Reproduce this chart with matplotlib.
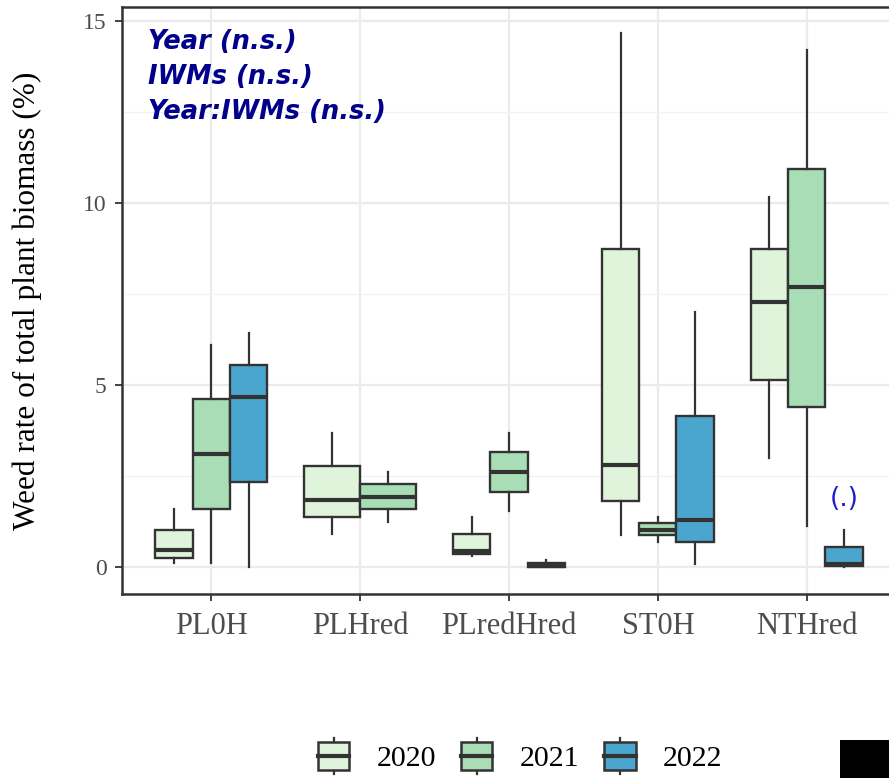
import matplotlib
matplotlib.use("Agg")
import matplotlib.pyplot as plt
from matplotlib.patches import Rectangle
from matplotlib.lines import Line2D
from matplotlib.legend_handler import HandlerBase

# categories and years
iwms = ["PL0H", "PLHred", "PLredHred", "ST0H", "NTHred"]
years = ["2020", "2021", "2022"]
fills = ["#e0f3db", "#a8ddb5", "#4ba6cf"]

# five-number summaries (whisker low, q1, median, q3, whisker high), one per IWM
# None = no data for that year
stats_2020 = [(0.11, 0.27, 0.49, 1.04, 1.59),
              (0.93, 1.37, 1.84, 2.77, 3.68),
              (0.30, 0.36, 0.44, 0.93, 1.37),
              (0.90, 1.81, 2.80, 8.74, 14.67),
              (2.99, 5.14, 7.28, 8.74, 10.17)]
stats_2021 = [(0.11, 1.59, 3.10, 4.62, 6.10),
              (1.24, 1.59, 1.92, 2.28, 2.61),
              (1.54, 2.06, 2.61, 3.16, 3.68),
              (0.69, 0.88, 1.04, 1.21, 1.37),
              (1.13, 4.40, 7.69, 10.93, 14.20)]
stats_2022 = [(0.00, 2.34, 4.67, 5.55, 6.43),
              None,
              (0.00, 0.00, 0.05, 0.12, 0.19),
              (0.08, 0.69, 1.29, 4.15, 7.00),
              (0.00, 0.03, 0.08, 0.55, 1.02)]
all_stats = [stats_2020, stats_2021, stats_2022]

anova_lines = ["Year (n.s.)", "IWMs (n.s.)", "Year:IWMs (n.s.)"]
signif_label = "(.)"
signif_y = 1.87

serif = "Liberation Serif"
edge = "#333333"

fig = plt.figure(figsize=(8.89, 7.78), dpi=100)
ax = fig.add_axes([122 / 889, 1 - 594 / 778, 774 / 889, 587 / 778])

# dodge like ggplot: boxes share 0.75 of each category slot
for i, name in enumerate(iwms):
    present = [k for k in range(3) if all_stats[k][i] is not None]
    n = len(present)
    w = 0.75 / n
    for j, k in enumerate(present):
        lo, q1, med, q3, hi = all_stats[k][i]
        pos = i + 1 - 0.375 + w * (j + 0.5)
        ax.bxp([dict(whislo=lo, q1=q1, med=med, q3=q3, whishi=hi, fliers=[])],
               positions=[pos], widths=w, showcaps=False, showfliers=False,
               patch_artist=True,
               boxprops=dict(facecolor=fills[k], edgecolor=edge, linewidth=1.7),
               whiskerprops=dict(color=edge, linewidth=1.6),
               medianprops=dict(color=edge, linewidth=3.0, solid_capstyle="butt"),
               zorder=3)

ax.set_xlim(0.4, 5.6)
ax.set_ylim(-0.73, 15.38)
ax.set_xticks(range(1, 6))
ax.set_xticklabels(iwms, fontfamily=serif, fontsize=22, color="#4d4d4d")
ax.set_yticks([0, 5, 10, 15])
ax.set_yticks([2.5, 7.5, 12.5], minor=True)
ax.set_yticklabels(["0", "5", "10", "15"], fontfamily=serif, fontsize=17, color="#4d4d4d")
ax.tick_params(axis="both", which="major", length=5, width=1.3, color=edge)
ax.tick_params(axis="x", pad=8)
ax.tick_params(axis="y", pad=6)
ax.tick_params(which="minor", length=0)
ax.grid(True, which="major", color="#ebebeb", linewidth=1.6, zorder=0)
ax.grid(True, which="minor", axis="y", color="#f2f2f2", linewidth=0.9, zorder=0)
ax.set_axisbelow(True)
for side in ["left", "top", "bottom", "right"]:
    ax.spines[side].set_color(edge)
    ax.spines[side].set_linewidth(1.8)

ax.set_ylabel("Weed rate of total plant biomass (%)", fontfamily=serif, fontsize=22.5)
ax.yaxis.set_label_coords(-0.123, 0.5)
ax.yaxis.label.set_verticalalignment("center")

for n, line in enumerate(anova_lines):
    ax.text(0.034, 0.941 - n * 0.0596, line, transform=ax.transAxes,
            fontfamily="DejaVu Sans", fontweight="bold", fontstyle="italic",
            fontsize=18.5, color="#00008b", va="center", ha="left")

ax.text(5.25, signif_y, signif_label, fontfamily="DejaVu Sans", fontsize=19,
        color="#1c1cd0", ha="center", va="center")


class BoxKey(HandlerBase):
    def create_artists(self, legend, orig_handle, xdescent, ydescent,
                       width, height, fontsize, trans):
        x0, y0 = -xdescent, -ydescent
        cx = x0 + width / 2
        stub = height * 0.14
        whisk = Line2D([cx, cx], [y0 - stub, y0 + height + stub],
                       color=edge, linewidth=1.6, transform=trans)
        box = Rectangle((x0, y0), width, height, facecolor=orig_handle.get_facecolor(),
                        edgecolor=edge, linewidth=1.8, transform=trans)
        med = Line2D([x0, x0 + width], [y0 + height / 2] * 2, color=edge,
                     linewidth=3.0, transform=trans)
        return [whisk, box, med]


handles = [Rectangle((0, 0), 1, 1, facecolor=c) for c in fills]
fig.legend(handles, years, handler_map={Rectangle: BoxKey()}, ncol=3,
           loc="center", bbox_to_anchor=(520 / 889, 1 - 757 / 778),
           frameon=False, prop=dict(family=serif, size=21.5),
           handlelength=1.05, handleheight=1.05, handletextpad=0.9,
           columnspacing=0.85)

# black block in the bottom right corner of the source image
fig.add_artist(Rectangle((840 / 889, 0), 49 / 889, 38 / 778, facecolor="black",
                         edgecolor="none", transform=fig.transFigure))

fig.savefig("out.png", dpi=100)
